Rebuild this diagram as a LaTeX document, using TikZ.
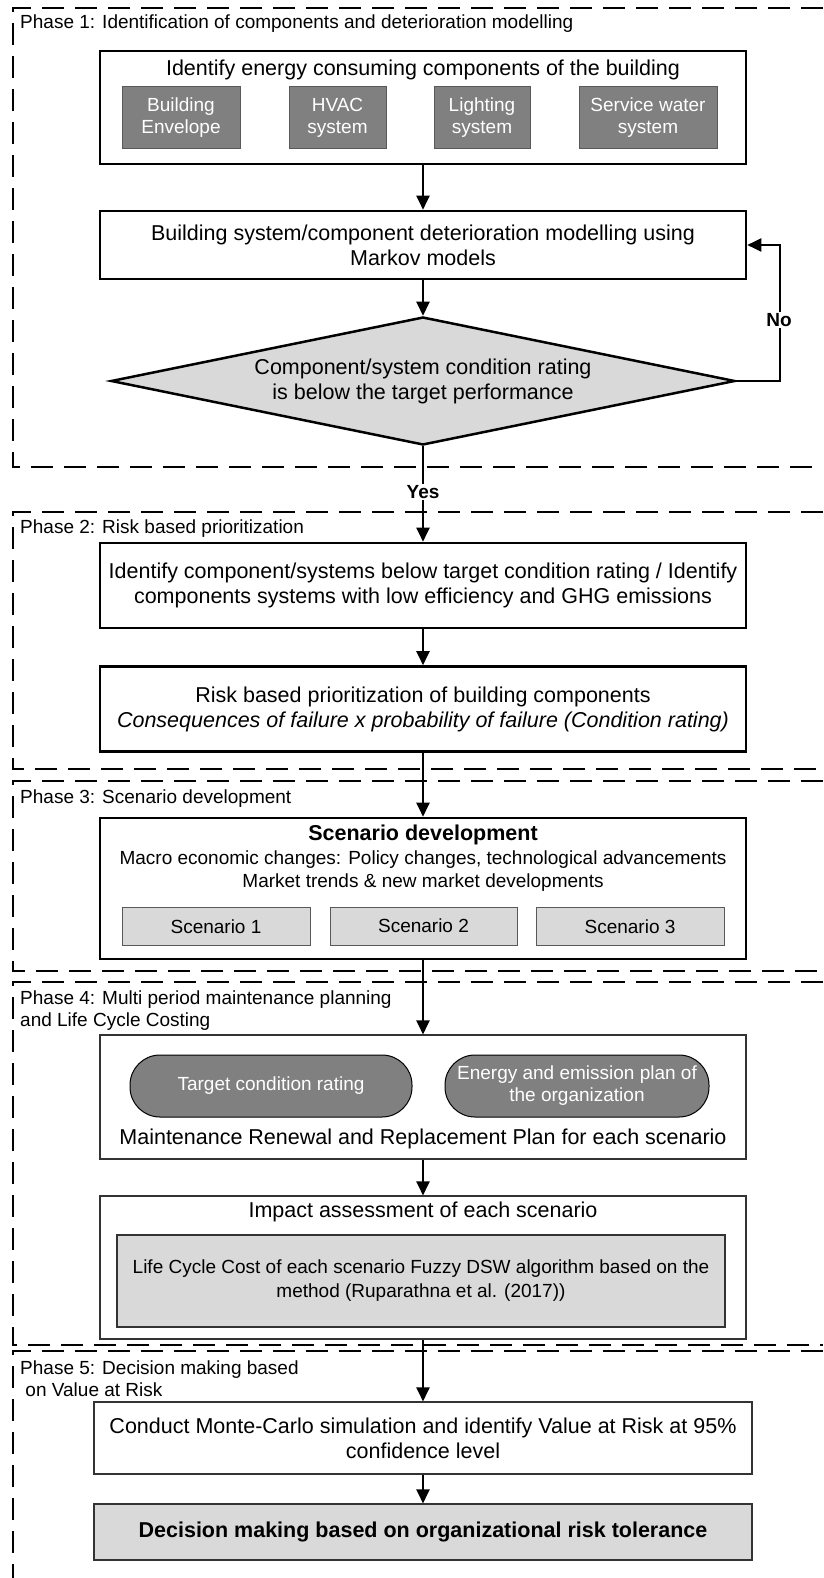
\documentclass[tikz,border=0pt]{standalone}
\usepackage{fontspec}
\setmainfont{Liberation Sans}
\usetikzlibrary{arrows.meta,shapes.geometric}
\definecolor{darkfill}{RGB}{128,128,128}
\definecolor{lightfill}{RGB}{217,217,217}

\begin{document}
\begin{tikzpicture}[x=1pt,y=-1pt,
  phaseframe/.style={line width=2.8pt, dash pattern=on 22pt off 11pt},
  phaselabel/.style={anchor=base west, inner sep=0pt, font=\fontsize{19}{22}\selectfont},
  txt/.style={inner sep=0pt, align=center, font=\fontsize{21.5}{25}\selectfont},
  smalltxt/.style={inner sep=0pt, align=center, font=\fontsize{19}{22}\selectfont},
  thickbox/.style={txt, draw, line width=2.6pt},
  thinbox/.style={txt, draw=black!80, line width=1.1pt},
  compbox/.style={draw=black!65, line width=1pt, fill=darkfill, text=white, inner sep=0pt,
    align=center, font=\fontsize{19}{22}\selectfont, minimum width=#1, minimum height=62pt},
  scenbox/.style={draw=black!65, line width=1pt, fill=lightfill, inner sep=0pt,
    font=\fontsize{19}{22}\selectfont, minimum width=#1, minimum height=38pt},
  pill/.style={draw=black, line width=1pt, fill=darkfill, text=white, inner sep=0pt,
    rounded corners=30pt, align=center, font=\fontsize{19}{22}\selectfont,
    minimum width=#1, minimum height=62pt},
  flow/.style={line width=2pt, -{Triangle[length=14pt,width=13pt]}},
  answer/.style={inner sep=1.5pt, fill=white, font=\bfseries\fontsize{19}{22}\selectfont},
]
\useasboundingbox (0,0) rectangle (823,1578);

% dashed phase frames, open on the right
\draw[phaseframe] (823,8) -- (13,8) -- (13,467) -- (823,467);
\draw[phaseframe] (823,512) -- (13,512) -- (13,769) -- (823,769);
\draw[phaseframe] (823,781) -- (13,781) -- (13,971) -- (823,971);
\draw[phaseframe] (823,982) -- (13,982) -- (13,1345) -- (823,1345);
\draw[phaseframe] (823,1351) -- (13,1351) -- (13,1578);

% phase titles
\node[phaselabel] (p1) at (20,29) {Phase 1: Identification of components and deterioration modelling};
\node[phaselabel] (p2) at (20,533) {Phase 2: Risk based prioritization};
\node[phaselabel] (p3) at (20,803) {Phase 3: Scenario development};
\node[phaselabel] (p4a) at (20,1004) {Phase 4: Multi period maintenance planning};
\node[phaselabel] (p4b) at (20,1026) {and Life Cycle Costing};
\node[phaselabel] (p5a) at (20,1374) {Phase 5: Decision making based};
\node[phaselabel] (p5b) at (20,1396) {\ on Value at Risk};

% Phase 1
\node[thickbox, minimum width=646pt, minimum height=113pt] (b1) at (423,107.5) {};
\node[txt] (b1t) at (423,70) {Identify energy consuming components of the building};
\node[compbox=118pt] (c1) at (181,118) {Building\\Envelope};
\node[compbox=97pt] (c2) at (337.5,118) {HVAC\\system};
\node[compbox=96pt] (c3) at (482,118) {Lighting\\system};
\node[compbox=138pt] (c4) at (648,118) {Service water\\system};

\node[thickbox, minimum width=646pt, minimum height=68pt] (b2) at (423,245)
  {Building system/component deterioration modelling using\\Markov models};

\node[txt, draw, line width=2.5pt, fill=lightfill, diamond, aspect=5,
  minimum width=624pt, minimum height=128pt] (dia) at (423,381)
  {Component/system condition rating\\is below the target performance};

% Phase 2
\node[thickbox, minimum width=646pt, minimum height=85pt] (b3) at (423,585.5)
  {Identify component/systems below target condition rating / Identify\\components systems with low efficiency and GHG emissions};
\node[thickbox, minimum width=646pt, minimum height=85pt] (b4) at (423,709)
  {Risk based prioritization of building components\\\itshape Consequences of failure x probability of failure (Condition rating)};

% Phase 3
\node[thickbox, minimum width=646pt, minimum height=141pt] (b5) at (423,888.5) {};
\node[txt, font=\bfseries\fontsize{21.5}{25}\selectfont] (b5t) at (423,835) {Scenario development};
\node[smalltxt] (b5a) at (423,860) {Macro economic changes: Policy changes, technological advancements};
\node[smalltxt] (b5b) at (423,883) {Market trends \& new market developments};
\node[scenbox=188pt] (s1) at (216,926.5) {Scenario 1};
\node[scenbox=187pt] (s2) at (423.5,926.5) {\raisebox{2pt}{Scenario 2}};
\node[scenbox=188pt] (s3) at (630,926.5) {Scenario 3};

% Phase 4
\node[thinbox, minimum width=646pt, minimum height=124pt] (b6) at (423,1097) {};
\node[pill=282pt] (t1) at (271,1086) {Target condition rating};
\node[pill=264pt] (t2) at (577,1086) {Energy and emission plan of\\the organization};
\node[txt] (b6t) at (423,1139) {Maintenance Renewal and Replacement Plan for each scenario};

\node[thinbox, minimum width=646pt, minimum height=143pt] (b7) at (423,1267.5) {};
\node[txt] (b7t) at (423,1212) {Impact assessment of each scenario};
\node[thinbox, fill=lightfill, font=\fontsize{19}{24}\selectfont,
  minimum width=608pt, minimum height=92pt] (lcc) at (421,1281)
  {Life Cycle Cost of each scenario Fuzzy DSW algorithm based on the\\method (Ruparathna et al. (2017))};

% Phase 5
\node[thinbox, minimum width=658pt, minimum height=72pt] (b8) at (423,1438)
  {Conduct Monte-Carlo simulation and identify Value at Risk at 95\%\\confidence level};
\node[thinbox, fill=lightfill, font=\bfseries\fontsize{21.5}{25}\selectfont,
  minimum width=658pt, minimum height=56pt] (b9) at (423,1532)
  {Decision making based on organizational risk tolerance};

% connectors
\draw[flow] (b1.south) -- (b2.north);
\draw[flow] (b2.south) -- (dia.north);
\draw[flow] (dia.east) -- ++(44,0) coordinate (loop) |- (b2.east);
\node[answer] (no) at (779,320) {No};
\draw[flow] (dia.south) -- (b3.north);
\node[answer] (yes) at (423,492) {Yes};
\draw[flow] (b3.south) -- (b4.north);
\draw[flow] (b4.south) -- (b5.north);
\draw[flow] (b5.south) -- (b6.north);
\draw[flow] (b6.south) -- (b7.north);
\draw[flow] (b7.south) -- (b8.north);
\draw[flow] (b8.south) -- (b9.north);
\end{tikzpicture}
\end{document}
